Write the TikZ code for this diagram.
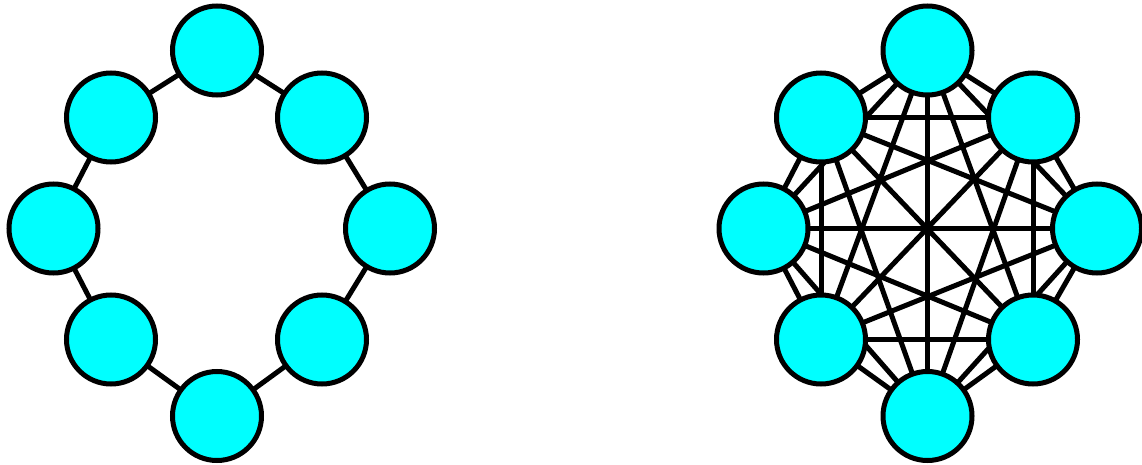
\documentclass[tikz,border=0pt]{standalone}
\usetikzlibrary{backgrounds}
\definecolor{nodecyan}{RGB}{0,255,255}
\begin{document}
\begin{tikzpicture}[x=1pt,y=-1pt,
  vtx/.style={circle,draw=black,fill=nodecyan,line width=5pt,minimum size=89pt,inner sep=0pt},
  edge/.style={draw=black,line width=5pt}]
\useasboundingbox (0,0) rectangle (1142,465);
% ring
\node[vtx] (a1) at (217,50.5) {};
\node[vtx] (a2) at (322,117.5) {};
\node[vtx] (a3) at (390,228.5) {};
\node[vtx] (a4) at (322,339.5) {};
\node[vtx] (a5) at (217,416) {};
\node[vtx] (a6) at (111,339.5) {};
\node[vtx] (a7) at (53.5,228.5) {};
\node[vtx] (a8) at (111,117.5) {};
\begin{pgfonlayer}{background}
\draw[edge] (a1.center)--(a2.center) (a2.center)--(a3.center) (a3.center)--(a4.center) (a4.center)--(a5.center)
  (a5.center)--(a6.center) (a6.center)--(a7.center) (a7.center)--(a8.center) (a8.center)--(a1.center);
\end{pgfonlayer}
% complete graph
\node[vtx] (b1) at (927.5,50.5) {};
\node[vtx] (b2) at (1033,117.5) {};
\node[vtx] (b3) at (1097,228.5) {};
\node[vtx] (b4) at (1033,339.5) {};
\node[vtx] (b5) at (927.5,416) {};
\node[vtx] (b6) at (821,339.5) {};
\node[vtx] (b7) at (763.5,228.5) {};
\node[vtx] (b8) at (821,117.5) {};
\begin{pgfonlayer}{background}
\foreach \i in {1,...,7}{
  \pgfmathtruncatemacro\k{\i+1}
  \foreach \j in {\k,...,8}{
    \draw[edge] (b\i.center)--(b\j.center);
  }
}
\end{pgfonlayer}
\end{tikzpicture}
\end{document}
